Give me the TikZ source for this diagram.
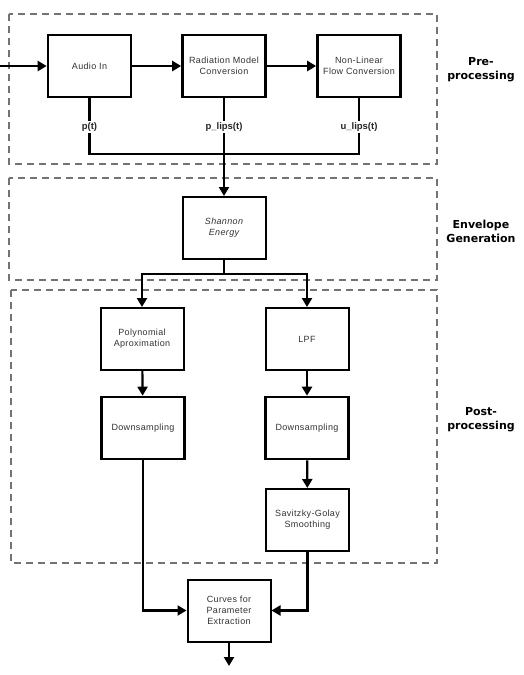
\documentclass[tikz,border=0pt]{standalone}
\usepackage{fontspec}
\setmainfont{Liberation Sans}
\newfontfamily\grpfont{DejaVu Sans}
\newfontfamily\boxfont[LetterSpace=4]{Liberation Sans}
\usetikzlibrary{arrows.meta}
\begin{document}
\begin{tikzpicture}
		[	x=1pt,y=-1pt,
		box/.style={rectangle,draw=black,line width=2pt,fill=white,minimum width=83pt,minimum height=62pt,align=center,font=\boxfont\fontsize{9}{11}\selectfont,text=black!80},
		bigbox/.style={box,line width=2.6pt},
		sig/.style={draw=none,fill=white,inner sep=1.5pt,font=\bfseries\fontsize{9.5}{11}\selectfont,text=black!85},
		group/.style={draw=black!55,line width=2pt,dash pattern=on 7pt off 5pt},
		grplabel/.style={align=center,font=\grpfont\bfseries\fontsize{11}{14}\selectfont},
		wire/.style={line width=2.2pt},
		flow/.style={wire,-{Triangle[width=10pt,length=9pt]}}
		]
		\useasboundingbox (0,0) rectangle (523,675);
		% dashed groups
		\draw[group] (9,14) rectangle (437,164);
		\draw[group] (9,178) rectangle (437,280);
		\draw[group] (11,290) rectangle (437,563);
		\node[grplabel] (prelbl) at (481,70) {Pre-\\processing};
		\node[grplabel] (envlbl) at (481,231) {Envelope\\Generation};
		\node[grplabel] (postlbl) at (481,420) {Post-\\processing};

		% blocks
		\node[bigbox] (audio) at (89.5,66){Audio In};
		\node[bigbox] (rad) at (224,66){Radiation Model\\Conversion};
		\node[bigbox] (nl) at (359,66){Non-Linear\\Flow Conversion};
		\node[box] (shannon) at (224,228){\itshape Shannon\\\itshape Energy};
		\node[box] (poly) at (142,339){Polynomial\\Aproximation};
		\node[box] (lpf) at (307,339){LPF};
		\node[bigbox] (downl) at (143,428){Downsampling};
		\node[bigbox] (downr) at (307,428){Downsampling};
		\node[box] (sav) at (307.5,520){Savitzky-Golay\\Smoothing};
		\node[box] (curves) at (229,610.5){Curves for\\Parameter\\Extraction};

		\coordinate (in) at (0,66);
		\coordinate (bus) at (224,154);
		\coordinate (split) at (224,274);
		\coordinate (out) at (229,666);

		\draw[flow] (in) -- (audio);
		\draw[flow] (audio) -- (rad);
		\draw[flow] (rad) -- (nl);
		\draw[wire] (audio.south) -- (audio.south |- bus) -| (nl.south);
		\draw[flow] (rad.south) -- (shannon.north);
		\draw[wire] (shannon.south) -- (split);
		\draw[flow] (split) -| (poly.north);
		\draw[flow] (split) -| (lpf.north);
		\draw[flow] (poly) -- (downl);
		\draw[flow] (lpf) -- (downr);
		\draw[flow] (downr) -- (sav);
		\draw[flow] (downl.south) |- (curves.west);
		\draw[flow] (sav.south) |- (curves.east);
		\draw[flow] (curves.south) -- (out);

		\node[sig] (pt) at (89.5,127){p(t)};
		\node[sig] (plips) at (224,127){p\_lips(t)};
		\node[sig] (ulips) at (359,127){u\_lips(t)};
	\end{tikzpicture}
\end{document}
